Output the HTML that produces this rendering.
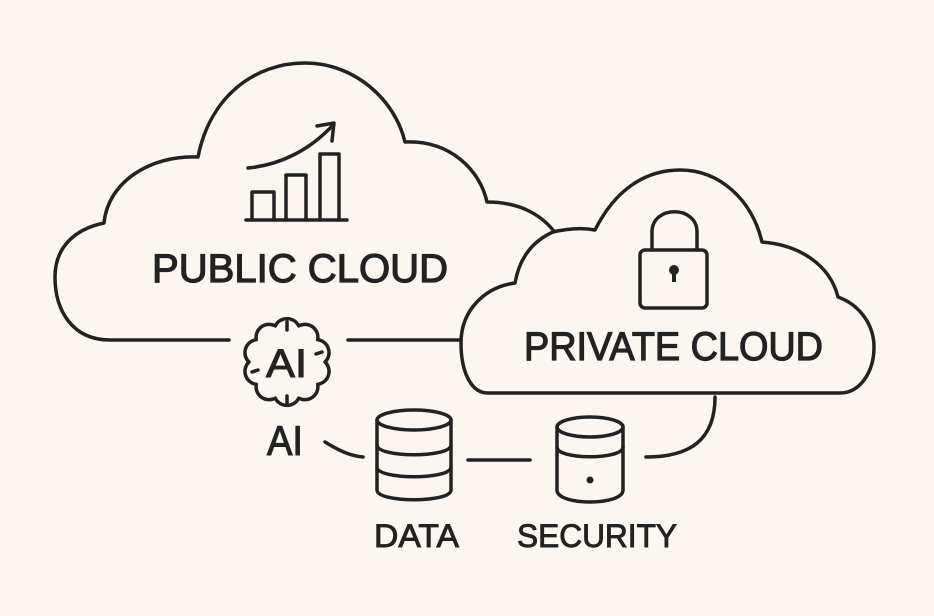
<!DOCTYPE html>
<html><head><meta charset="utf-8"><style>
html,body{margin:0;padding:0;background:#fbf7f0;}
svg{display:block;}
text{font-family:"Liberation Sans",sans-serif;fill:#222;stroke:#222;}
</style></head><body>
<svg width="934" height="616" viewBox="0 0 934 616">
<rect width="934" height="616" fill="#fbf7f0"/>
<g fill="none" stroke="#222" stroke-width="3.5" stroke-linecap="round" stroke-linejoin="round">
<path d="M229 340 L110 340 C72 340 55 310 55 277 C55 247 75 229 104 223 C108 182 150 155 198 157 C210 96 255 63 305 63 C355 63 395 100 405 142 C450 140 480 170 487 202 C520 202 545 215 560 240"/>
<path d="M348 340 L465 340"/>
<path fill="#fbf7f0" d="M488 393 C470 393 461 370 461 343 C461 310 485 287 515 283 C520 255 535 240 553 232 C570 228 585 228 595 230 C615 190 645 170 680 170 C720 170 752 200 762 242 C800 245 830 265 838 297 C860 305 874 325 874 347 C874 372 860 393 840 393 Z"/>
<path d="M246 220 L347 220"/>
<path d="M252 220 V192 H274 V220 M286 220 V175 H306 V220 M320 220 V154 H339 V220"/>
<path d="M248 168 C280 165 310 150 333 125"/>
<path d="M317 126 L334 123 L332 141"/>
<path d="M652 250 V232 C652 205 697 205 697 232 V250"/>
<rect x="640" y="250" width="67" height="58" rx="5"/>
<path d="M325 362 A13 13 0 0 1 317.7 384.3 A13 13 0 0 1 298.7 398.1 A13 13 0 0 1 275.3 398.1 A13 13 0 0 1 256.3 384.3 A13 13 0 0 1 249 362 A13 13 0 0 1 256.3 339.7 A13 13 0 0 1 275.3 325.9 A13 13 0 0 1 298.7 325.9 A13 13 0 0 1 317.7 339.7 A13 13 0 0 1 325 362 Z"/>
<path d="M287 322 V330 M287 396 V404 M252 372 L258 370 M322 352 L316 354"/>
<path d="M325 442 C338 450 350 456 363 457"/>
<path d="M468 460 L530 460"/>
<path d="M646 457 C690 457 715 440 715 397"/>
<ellipse cx="414" cy="420" rx="37" ry="10"/>
<path d="M377 420 V490 C377 503 451 503 451 490 V420"/>
<path d="M377 445 C377 458 451 458 451 445 M377 467 C377 480 451 480 451 467"/>
<ellipse cx="590" cy="427" rx="33" ry="10"/>
<path d="M557 427 V490 C557 506 623 506 623 490 V427"/>
<path d="M557 447 C557 460 623 460 623 447"/>
</g>
<circle cx="674" cy="270" r="5" fill="#222"/>
<rect x="672" y="270" width="4" height="12" fill="#222"/>
<circle cx="590" cy="480" r="3.5" fill="#222"/>
<text x="152" y="282" font-size="40" stroke-width="1.2" textLength="296" lengthAdjust="spacingAndGlyphs">PUBLIC CLOUD</text>
<text x="524" y="360" font-size="40" stroke-width="1.2" textLength="299" lengthAdjust="spacingAndGlyphs">PRIVATE CLOUD</text>
<text x="266" y="377" font-size="40" stroke-width="1" textLength="41" lengthAdjust="spacingAndGlyphs">AI</text>
<text x="267" y="455" font-size="42" stroke-width="1.1" textLength="36" lengthAdjust="spacingAndGlyphs">AI</text>
<text x="374" y="547" font-size="32" stroke-width="0.9" textLength="85" lengthAdjust="spacingAndGlyphs">DATA</text>
<text x="517" y="547" font-size="32" stroke-width="0.9" textLength="160" lengthAdjust="spacingAndGlyphs">SECURITY</text>
</svg>
</body></html>
